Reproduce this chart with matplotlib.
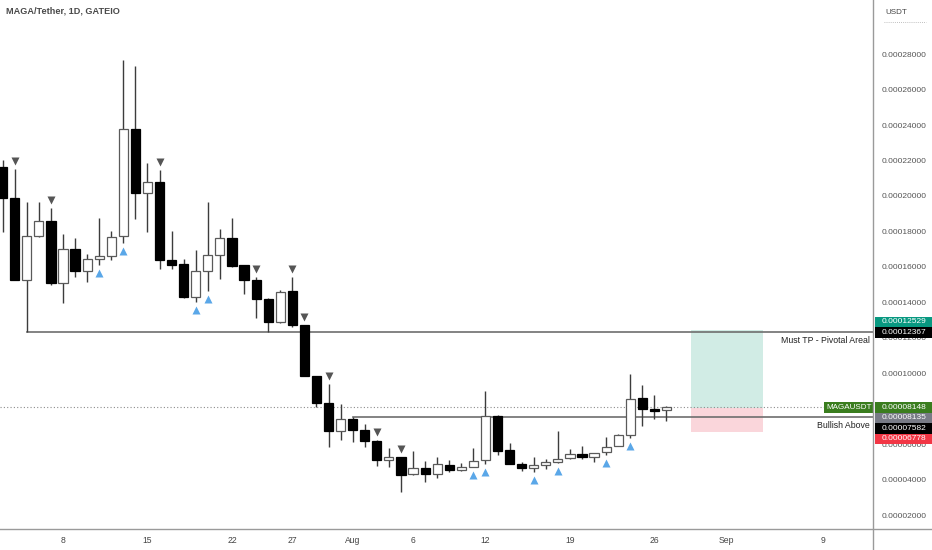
import matplotlib
matplotlib.use("Agg")
import matplotlib.pyplot as plt
import pandas as pd
from matplotlib.lines import Line2D
from matplotlib.patches import Rectangle
from matplotlib.transforms import offset_copy

plt.rcParams["font.family"] = ["Liberation Sans", "DejaVu Sans"]

# daily candles, prices in units of 1e-8 USDT
dates = pd.date_range("2024-07-03", "2024-08-27", freq="D")
opens = [21670, 19930, 15320, 17800, 18660, 15140, 17070, 15810, 16510, 16690,
         17820, 23810, 20210, 20860, 16450, 16210, 14380, 15850, 16730, 17670,
         16150, 15320, 14240, 12940, 14700, 12790, 9915, 8410, 6816,
         7490, 6860, 6270, 5183, 5370, 4377, 4715, 4394, 4900, 4619,
         4771, 5183, 7678, 5746, 4940, 4715, 4918, 5053, 5278, 5504,
         5335, 5616, 5971, 6591, 8659, 8055, 7980]
highs = [22080, 21580, 19740, 19740, 19360, 17900, 17690, 16790, 18800, 18100,
         27720, 27380, 21900, 21520, 18080, 16520, 17010, 19740, 18180, 18800,
         16180, 15510, 14290, 14760, 15480, 12800, 9920, 9460, 8340,
         7582, 7190, 6300, 5840, 5370, 5690, 5126, 5370, 5183, 5031,
         5842, 9070, 7717, 6157, 5087, 5370, 5222, 6816, 5785, 5971,
         5594, 6495, 6648, 10010, 9408, 8845, 8200]
lows = [18030, 15320, 12367, 17730, 15040, 14010, 15480, 15230, 16170, 16450,
        17390, 18740, 18010, 15930, 15930, 14330, 14100, 14720, 15400, 16040,
        14540, 13170, 12370, 12880, 12660, 9900, 8190, 5930, 6310,
        6210, 5930, 4860, 4770, 3400, 4337, 3960, 4152, 4524, 4580,
        4771, 4957, 5464, 4957, 4563, 4524, 4676, 4997, 5222, 5256,
        5087, 5464, 5960, 6405, 7115, 7493, 7397]
closes = [19930, 15320, 17800, 18630, 15140, 17070, 15810, 16510, 16690, 17760,
          23810, 20210, 20860, 16450, 16170, 14380, 15850, 16730, 17670, 16100,
          15320, 14240, 12940, 14660, 12790, 9915, 8410, 6816, 7490,
          6860, 6270, 5183, 5335, 4337, 4715, 4394, 4940, 4619, 4771,
          5126, 7678, 5707, 4957, 4715, 4900, 5053, 5256, 5504, 5335,
          5577, 5932, 6591, 8619, 8039, 7943, 8148]
SCALE = 1e-8

down_marks = ["2024-07-04", "2024-07-07", "2024-07-16", "2024-07-24", "2024-07-27",
              "2024-07-28", "2024-07-30", "2024-08-03", "2024-08-05"]
up_marks = ["2024-07-11", "2024-07-13", "2024-07-19", "2024-07-20", "2024-08-11",
            "2024-08-12", "2024-08-16", "2024-08-18", "2024-08-22", "2024-08-24"]

tick_dates = ["2024-07-08", "2024-07-15", "2024-07-22", "2024-07-27", "2024-08-01",
              "2024-08-06", "2024-08-12", "2024-08-19", "2024-08-26", "2024-09-01",
              "2024-09-09"]
tick_labels = ["8", "15", "22", "27", "Aug", "6", "12", "19", "26", "Sep", "9"]
price_ticks = [0.00002, 0.00004, 0.00006, 0.00008, 0.00010, 0.00012, 0.00014,
               0.00016, 0.00018, 0.00020, 0.00022, 0.00024, 0.00026, 0.00028]

tp_level = 0.00012367
tp_start = "2024-07-05"
bull_level = 0.00007582
bull_start = "2024-08-01"
last_price = 0.00008148
pos_start, pos_end = "2024-08-29", "2024-09-04"
pos_entry, pos_target, pos_stop = 0.00008135, 0.00012529, 0.00006778

# right-scale labels: (price, colour)
scale_labels = [(0.00012529, "#089981"), (0.00012367, "#000000"),
                (0.00008135, "#787b86"), (0.00007582, "#000000"),
                (0.00006778, "#f23645")]
LAST_COLOR = "#3a7d1e"

day0 = dates[0]


def xpos(d):
    return (pd.Timestamp(d) - day0).days


W, H = 932, 550
fig = plt.figure(figsize=(W / 100, H / 100), dpi=100)
plot_right, plot_bottom = 873, 21
ax = fig.add_axes([0, plot_bottom / H, plot_right / W, 1 - plot_bottom / H])
axp = fig.add_axes([plot_right / W, plot_bottom / H, 1 - plot_right / W, 1 - plot_bottom / H])

ymin, ymax = 0.00001295, 0.00031099
ax.set_xlim(-0.22, 72.11)
ax.set_ylim(ymin, ymax)
axp.set_xlim(0, 1)
axp.set_ylim(ymin, ymax)
for a in (ax, axp):
    for s in a.spines.values():
        s.set_visible(False)
axp.set_xticks([])
axp.set_yticks([])
ax.set_yticks([])

# candles
xs = [xpos(d) for d in dates]
for x, o, h, l, c in zip(xs, opens, highs, lows, closes):
    o, h, l, c = o * SCALE, h * SCALE, l * SCALE, c * SCALE
    ax.vlines(x, l, h, color="#3c3c3c", lw=1.0, zorder=3)
    bull = c >= o
    ax.bar(x, max(abs(c - o), 2e-7), bottom=min(o, c), width=0.76,
           color="white" if bull else "black",
           edgecolor="#5a5a5a" if bull else "black", lw=0.9, zorder=4)

# signal arrows
hi_map = dict(zip([d.strftime("%Y-%m-%d") for d in dates], highs))
lo_map = dict(zip([d.strftime("%Y-%m-%d") for d in dates], lows))
tr_up = offset_copy(ax.transData, fig=fig, y=8, units="dots")
tr_dn = offset_copy(ax.transData, fig=fig, y=-8, units="dots")
ax.plot([xpos(d) for d in down_marks], [hi_map[d] * SCALE for d in down_marks],
        ls="none", marker="v", ms=5.4, color="#555555", mec="none", transform=tr_up, zorder=5)
ax.plot([xpos(d) for d in up_marks], [lo_map[d] * SCALE for d in up_marks],
        ls="none", marker="^", ms=5.4, color="#5aa7e8", mec="none", transform=tr_dn, zorder=5)

# long position box
x0, x1 = xpos(pos_start), xpos(pos_end)
ax.add_patch(Rectangle((x0, pos_entry), x1 - x0, pos_target - pos_entry,
                       fc="#d1ece5", ec="none", zorder=1))
ax.add_patch(Rectangle((x0, pos_stop), x1 - x0, pos_entry - pos_stop,
                       fc="#fad6db", ec="none", zorder=1))

# levels
xr = ax.get_xlim()[1]
ax.plot([xpos(tp_start), xr], [tp_level, tp_level], color="#6e6e6e", lw=1.2, zorder=2)
ax.plot([xpos(bull_start), xr], [bull_level, bull_level], color="#6e6e6e", lw=1.2, zorder=2)
ax.axhline(last_price, color="#8c8c8c", lw=0.8, ls=(0, (1, 2)), zorder=1)

ytr = ax.get_yaxis_transform()
ax.annotate("Must TP - Pivotal Areal", xy=(1, tp_level), xycoords=ytr,
            xytext=(-2, -2.5), textcoords="offset points", ha="right", va="top",
            fontsize=6.3, color="#222222")
ax.annotate("Bullish Above", xy=(1, bull_level), xycoords=ytr,
            xytext=(-2, -2.5), textcoords="offset points", ha="right", va="top",
            fontsize=6.3, color="#222222")

ax.text(6 / plot_right, 1 - 11 / (H - plot_bottom), "MAGA/Tether, 1D, GATEIO",
        transform=ax.transAxes, ha="left", va="center", fontsize=6.6,
        fontweight="bold", color="#4a4a4a")

# date axis
ax.set_xticks([xpos(d) for d in tick_dates])
ax.set_xticklabels(tick_labels)
ax.tick_params(axis="x", length=0, pad=5, labelsize=6.2, labelcolor="#444444")

# frame lines
fig.add_artist(Line2D([0, 1], [plot_bottom / H] * 2, color="#9a9a9a", lw=1.0))
fig.add_artist(Line2D([plot_right / W] * 2, [0, 1], color="#9a9a9a", lw=1.0))

# label stacking on the price scale
px = (ymax - ymin) / (H - plot_bottom)
lab_h = 10.5 * px
placed = [(last_price, last_price, LAST_COLOR)]
prev = last_price
for p, col in sorted([s for s in scale_labels if s[0] > last_price]):
    y = max(p, prev + lab_h)
    placed.append((p, y, col))
    prev = y
prev = last_price
for p, col in sorted([s for s in scale_labels if s[0] < last_price], reverse=True):
    y = min(p, prev - lab_h)
    placed.append((p, y, col))
    prev = y

# price scale ticks, hidden where a label box fully covers them
for p in price_ticks:
    if any(abs(p - y) < lab_h * 0.4 for _, y, _ in placed):
        continue
    axp.text(0.15, p, f"{p:.8f}", ha="left", va="center", fontsize=6,
             color="#555555", zorder=1)
axp.text(0.4, 1 - 12 / (H - plot_bottom), "USDT", transform=axp.transAxes,
         ha="center", va="center", fontsize=5.8, color="#444444")
axp.plot([0.18, 0.9], [1 - 22 / (H - plot_bottom)] * 2, transform=axp.transAxes,
         color="#aaaaaa", lw=0.6, ls=(0, (1, 1.5)))

for p, y, col in placed:
    axp.add_patch(Rectangle((0.04, y - lab_h / 2), 0.96, lab_h, fc=col, ec="none", zorder=3))
    axp.text(0.15, y, f"{p:.8f}", ha="left", va="center", fontsize=6,
             color="white", zorder=4)

ax.text(1 - 1 / plot_right, last_price, "MAGAUSDT", transform=ytr, ha="right",
        va="center", fontsize=5.8, color="white", zorder=6, clip_on=False,
        bbox=dict(boxstyle="square,pad=0.28", fc=LAST_COLOR, ec="none"))

fig.savefig("out.png", dpi=100)
